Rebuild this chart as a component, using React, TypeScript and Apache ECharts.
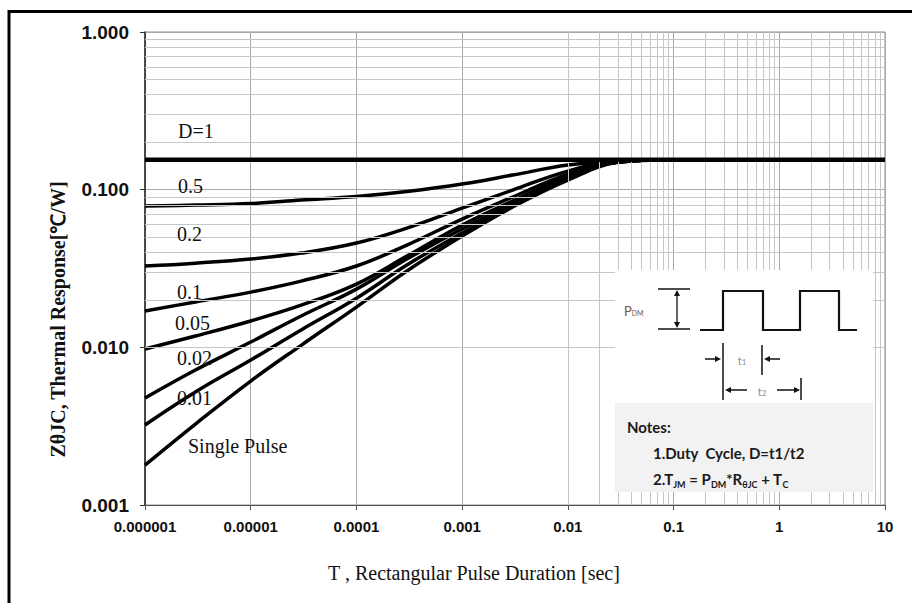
import React, { useEffect, useRef } from "react";
import * as echarts from "echarts";

// Pulse durations (sec) at which the curves were read
const durations = [1e-6, 3e-6, 1e-5, 3e-5, 1e-4, 3e-4, 1e-3, 3e-3, 1e-2, 3e-2, 1e-1, 1, 10];

// Thermal response Z(theta)JC [degC/W] per duty cycle
const zD1 = [0.155, 0.155, 0.155, 0.155, 0.155, 0.155, 0.155, 0.155, 0.155, 0.155, 0.155, 0.155, 0.155];
const zD05 = [0.0787, 0.0798, 0.0816, 0.0859, 0.0905, 0.0973, 0.1085, 0.1238, 0.1432, 0.1529, 0.155, 0.155, 0.155];
const zD02 = [0.0328, 0.0342, 0.0363, 0.0396, 0.0459, 0.0571, 0.0764, 0.0994, 0.1312, 0.152, 0.155, 0.155, 0.155];
const zD01 = [0.017, 0.0194, 0.0224, 0.0263, 0.0328, 0.0445, 0.0651, 0.0898, 0.1256, 0.151, 0.155, 0.155, 0.155];
const zD005 = [0.00976, 0.0118, 0.0147, 0.0185, 0.0252, 0.0379, 0.0596, 0.0847, 0.122, 0.15, 0.155, 0.155, 0.155];
const zD002 = [0.00477, 0.00718, 0.0108, 0.0158, 0.0234, 0.0363, 0.0563, 0.081, 0.1185, 0.15, 0.155, 0.155, 0.155];
const zD001 = [0.00322, 0.00521, 0.00831, 0.0129, 0.0205, 0.0333, 0.0531, 0.0787, 0.1168, 0.15, 0.155, 0.155, 0.155];
const zSingle = [0.00179, 0.00326, 0.00611, 0.0103, 0.018, 0.0305, 0.0508, 0.0776, 0.1151, 0.149, 0.155, 0.155, 0.155];

const curveNames = ["D=1", "0.5", "0.2", "0.1", "0.05", "0.02", "0.01", "Single Pulse"];
const curveValues = [zD1, zD05, zD02, zD01, zD005, zD002, zD001, zSingle];

const xTickLabels = ["0.000001", "0.00001", "0.0001", "0.001", "0.01", "0.1", "1", "10"];
const yTickLabels = ["0.001", "0.010", "0.100", "1.000"];

const xDecades = [1e-6, 1e-5, 1e-4, 1e-3, 1e-2, 1e-1, 1];
const yDecades = [1e-3, 1e-2, 1e-1];
const minorSteps = [2, 3, 4, 5, 6, 7, 8, 9];

const xTitle = "T , Rectangular Pulse Duration [sec]";
const yTitle = "ZθJC, Thermal Response[℃/W]";

const SERIF = "'Liberation Serif', 'Times New Roman', serif";
const NARROW = "'Liberation Sans Narrow', 'Arial Narrow', 'Liberation Sans', Arial, sans-serif";
const NOTE = "Lato, 'Open Sans', sans-serif";

export default function App() {
  const ref = useRef<HTMLDivElement>(null);

  useEffect(() => {
    if (!ref.current) return;
    const chart = echarts.init(ref.current, null, { renderer: "svg" });

    const minorX = xDecades.flatMap((d) => minorSteps.map((m) => +(d * m).toPrecision(3)));
    const minorY = yDecades.flatMap((d) => minorSteps.map((m) => +(d * m).toPrecision(3)));

    const curveSeries = curveNames.map((name, i) => ({
      name,
      type: "line",
      data: durations.map((t, k) => [t, curveValues[i][k]]),
      showSymbol: false,
      symbol: "none",
      smooth: 0.4,
      z: i === 0 ? 5 : 4,
      lineStyle: { color: "#000", width: i === 0 ? 4.5 : 3.5, join: "round" },
      silent: true,
    }));

    const labelPos: [string, number, number][] = [
      ["D=1", 178, 131],
      ["0.5", 178, 186],
      ["0.2", 177, 234],
      ["0.1", 177, 292],
      ["0.05", 175, 323],
      ["0.02", 177, 358],
      ["0.01", 177, 398],
      ["Single Pulse", 188, 446],
    ];

    const arrowHead = (x: number, y: number, dir: "l" | "r" | "u" | "d") => {
      const s = 6, w = 3;
      let pts: number[][] = [];
      if (dir === "r") pts = [[x, y], [x - s, y - w], [x - s, y + w]];
      if (dir === "l") pts = [[x, y], [x + s, y - w], [x + s, y + w]];
      if (dir === "u") pts = [[x, y], [x - w, y + s], [x + w, y + s]];
      if (dir === "d") pts = [[x, y], [x - w, y - s], [x + w, y - s]];
      return { type: "polygon", shape: { points: pts }, style: { fill: "#111" }, z: 102, silent: true };
    };
    const seg = (x1: number, y1: number, x2: number, y2: number, w = 1.5) => ({
      type: "line",
      shape: { x1, y1, x2, y2 },
      style: { stroke: "#111", lineWidth: w },
      z: 102,
      silent: true,
    });

    const option: any = {
      animation: false,
      backgroundColor: "#fff",
      grid: { left: 145, right: 27, top: 32, bottom: 98, show: true, borderColor: "#8c8c8c", borderWidth: 1 },
      xAxis: {
        type: "log",
        logBase: 10,
        min: 1e-6,
        max: 10,
        splitNumber: 7,
        name: xTitle,
        nameLocation: "middle",
        nameGap: 58,
        nameTextStyle: { fontFamily: SERIF, fontSize: 20, color: "#111", padding: [0, 82, 0, 0] },
        axisLine: { show: true, lineStyle: { color: "#555", width: 1 } },
        axisTick: { show: true, length: 5, lineStyle: { color: "#555" } },
        axisLabel: {
          margin: 14,
          fontFamily: NARROW,
          fontWeight: "bold",
          fontSize: 15,
          color: "#111",
          formatter: (v: number) => xTickLabels[Math.round(Math.log10(v)) + 6] ?? "",
        },
        splitLine: { show: true, lineStyle: { color: "#a8a8a8", width: 1 } },
        minorTick: { show: false },
        minorSplitLine: { show: false },
      },
      yAxis: {
        type: "log",
        logBase: 10,
        min: 0.001,
        max: 1,
        splitNumber: 3,
        name: yTitle,
        nameLocation: "middle",
        nameGap: 77,
        nameTextStyle: { fontFamily: SERIF, fontSize: 20, fontWeight: "bold", color: "#111", padding: [0, 102, 0, 0] },
        axisLine: { show: true, lineStyle: { color: "#222", width: 1.5 } },
        axisTick: { show: true, length: 5, lineStyle: { color: "#333" } },
        axisLabel: {
          margin: 16,
          fontFamily: NARROW,
          fontWeight: "bold",
          fontSize: 19,
          color: "#111",
          formatter: (v: number) => yTickLabels[Math.round(Math.log10(v)) + 3] ?? "",
        },
        splitLine: { show: true, lineStyle: { color: "#a8a8a8", width: 1 } },
      },
      series: [
        {
          type: "line",
          name: "grid",
          data: [[1e-6, 0.001]],
          symbol: "none",
          showSymbol: false,
          lineStyle: { width: 0, opacity: 0 },
          z: 1,
          silent: true,
          markLine: {
            silent: true,
            symbol: ["none", "none"],
            label: { show: false },
            lineStyle: { color: "#c6c6c6", width: 1, type: "solid" },
            emphasis: { disabled: true },
            data: [
              ...minorX.map((v) => ({ xAxis: v })),
              ...minorY.map((v) => ({ yAxis: v })),
            ],
          },
        },
        ...curveSeries,
      ],
      graphic: [
        {
          type: "rect",
          shape: { x: 9, y: 11.5, width: 1000, height: 1000 },
          style: { fill: "none", stroke: "#000", lineWidth: 3 },
          z: 200,
          silent: true,
        },
        ...labelPos.map(([t, x, y]) => ({
          type: "text",
          x,
          y,
          z: 110,
          silent: true,
          style: { text: t, fontFamily: SERIF, fontSize: 20, fill: "#111", align: "left", verticalAlign: "middle" },
        })),
        { type: "rect", shape: { x: 615, y: 270, width: 258, height: 133 }, style: { fill: "#fff" }, z: 100, silent: true },
        { type: "rect", shape: { x: 615, y: 403, width: 258, height: 89 }, style: { fill: "#f2f2f2" }, z: 100, silent: true },
        {
          type: "polyline",
          shape: {
            points: [[700, 330], [723, 330], [723, 291], [763, 291], [763, 330], [800, 330], [800, 291], [839, 291], [839, 330], [857, 330]],
          },
          style: { stroke: "#111", lineWidth: 2.2, fill: "none" },
          z: 102,
          silent: true,
        },
        seg(658, 289, 690, 289, 1.5),
        seg(658, 329, 690, 329, 1.5),
        seg(677, 294, 677, 324, 1.3),
        arrowHead(677, 290, "u"),
        arrowHead(677, 328, "d"),
        {
          type: "text",
          x: 624,
          y: 311,
          z: 103,
          silent: true,
          style: {
            text: "{p|P}{s|DM}",
            verticalAlign: "middle",
            rich: {
              p: { fontFamily: NOTE, fontSize: 13, fill: "#6e5a48", verticalAlign: "bottom" },
              s: { fontFamily: NOTE, fontSize: 7, fill: "#6e5a48", verticalAlign: "bottom", padding: [0, 0, 1, 0] },
            },
          },
        },
        seg(723, 343, 723, 400, 1.5),
        seg(762, 345, 762, 375, 1.5),
        seg(705, 359, 716, 359, 1.5),
        arrowHead(721, 359, "r"),
        seg(770, 359, 780, 359, 1.5),
        arrowHead(764, 359, "l"),
        {
          type: "text",
          x: 742,
          y: 360,
          z: 103,
          silent: true,
          style: {
            text: "{t|t}{s|1}",
            align: "center",
            verticalAlign: "middle",
            rich: {
              t: { fontFamily: NOTE, fontSize: 11, fill: "#8090a8", verticalAlign: "bottom" },
              s: { fontFamily: NOTE, fontSize: 8, fill: "#8090a8", verticalAlign: "bottom" },
            },
          },
        },
        seg(801, 378, 801, 400, 1.5),
        seg(731, 390, 747, 390, 1.5),
        arrowHead(725, 390, "l"),
        seg(777, 390, 794, 390, 1.5),
        arrowHead(800, 390, "r"),
        {
          type: "text",
          x: 762,
          y: 391,
          z: 103,
          silent: true,
          style: {
            text: "{t|t}{s|2}",
            align: "center",
            verticalAlign: "middle",
            rich: {
              t: { fontFamily: NOTE, fontSize: 11, fill: "#8090a8", verticalAlign: "bottom" },
              s: { fontFamily: NOTE, fontSize: 8, fill: "#8090a8", verticalAlign: "bottom" },
            },
          },
        },
        {
          type: "text",
          x: 627,
          y: 427,
          z: 103,
          silent: true,
          style: { text: "Notes:", fontFamily: NOTE, fontSize: 15, fontWeight: "bold", fill: "#1a1a1a", verticalAlign: "middle" },
        },
        {
          type: "text",
          x: 653,
          y: 453,
          z: 103,
          silent: true,
          style: { text: "1.Duty  Cycle, D=t1/t2", fontFamily: NOTE, fontSize: 15, fontWeight: "bold", fill: "#1a1a1a", verticalAlign: "middle" },
        },
        {
          type: "text",
          x: 653,
          y: 480,
          z: 103,
          silent: true,
          style: {
            text: "{n|2.T}{s|JM}{n| = P}{s|DM}{n|*R}{s|θJC}{n| + T}{s|C}",
            verticalAlign: "middle",
            rich: {
              n: { fontFamily: NOTE, fontSize: 15, fontWeight: "bold", fill: "#1a1a1a", verticalAlign: "top", lineHeight: 18 },
              s: { fontFamily: NOTE, fontSize: 9, fontWeight: "bold", fill: "#1a1a1a", verticalAlign: "top", lineHeight: 10, padding: [9, 0, 0, 0] },
            },
          },
        },
      ],
    };

    chart.setOption(option);
    return () => chart.dispose();
  }, []);

  return (
    <div
      ref={ref}
      style={{ position: "fixed", left: 0, top: 0, width: 912, height: 603, background: "#fff" }}
    />
  );
}
